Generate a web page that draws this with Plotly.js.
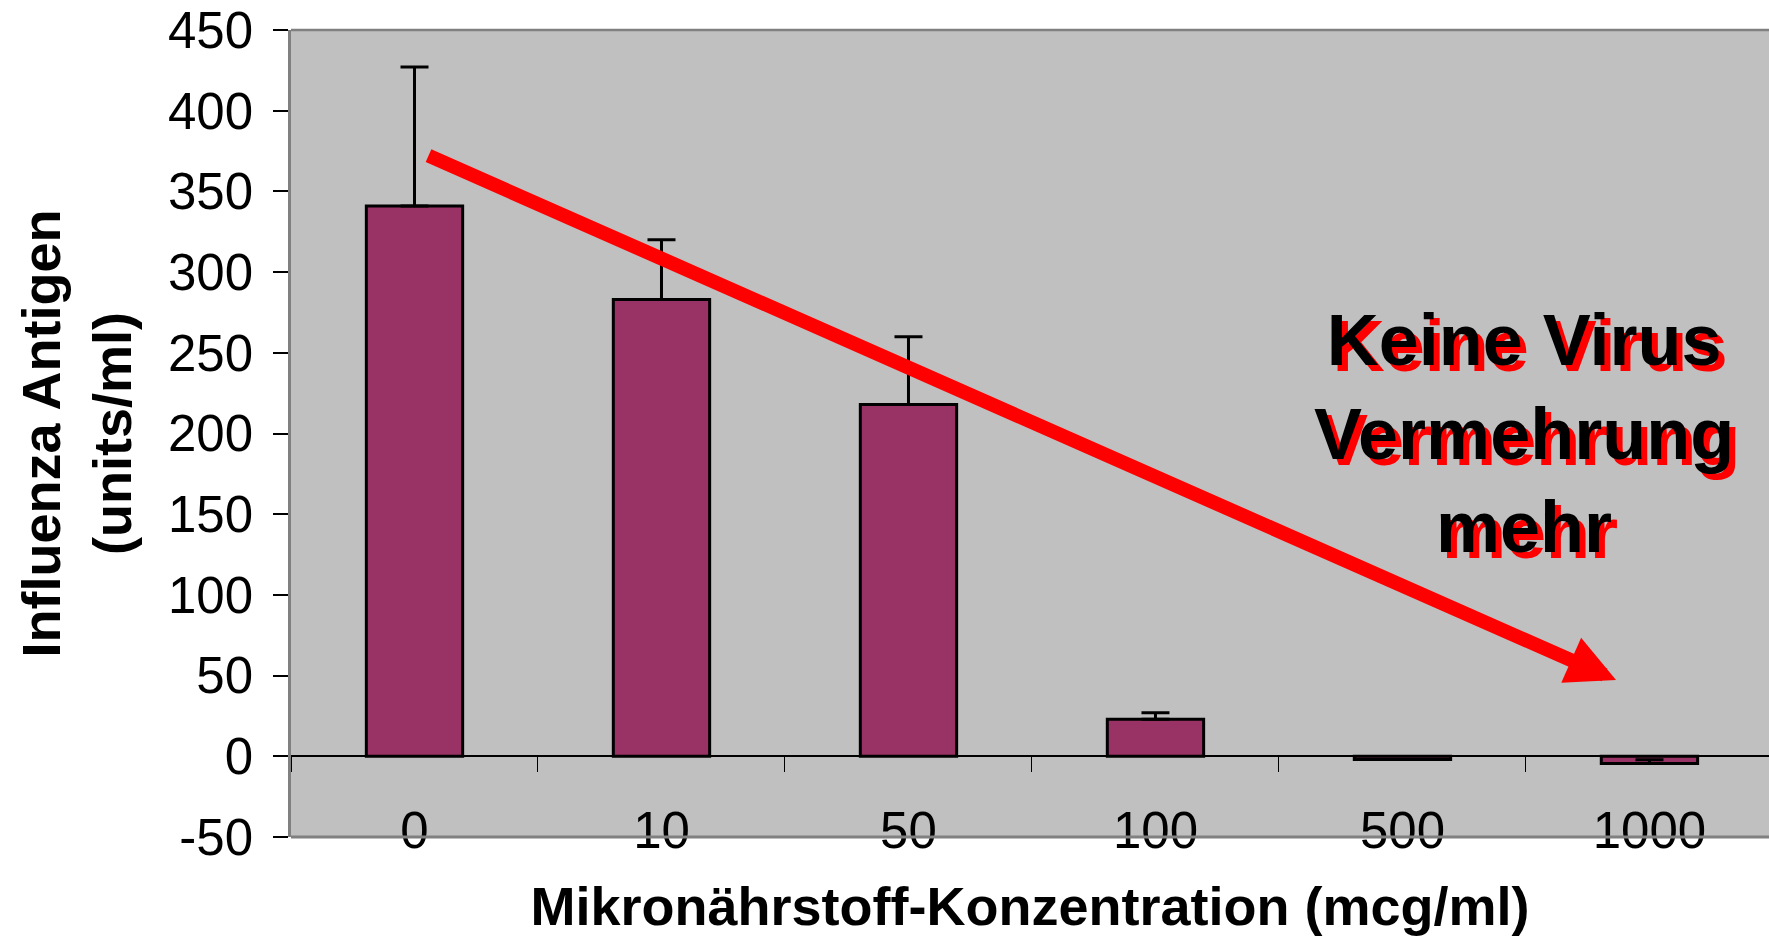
<!DOCTYPE html>
<html>
<head>
<meta charset="utf-8">
<script src="https://cdn.plot.ly/plotly-3.0.1.min.js"></script>
<style>html,body{margin:0;padding:0;background:#fff;}#chart{width:1769px;height:936px;}</style>
</head>
<body>
<div id="chart"></div>
<script>
const categories = ["0", "10", "50", "100", "500", "1000"];
const antigenValues = [341, 283, 218, 23, -2, -4.5];
const errorPlus = [86, 37, 42, 4, 0, 2.3];
const errorMinus = [0, 0, 0, 0, 0, 0];
const yTickValues = [-50, 0, 50, 100, 150, 200, 250, 300, 350, 400, 450];
const yTickText = ["-50", "0", "50", "100", "150", "200", "250", "300", "350", "400", "450"];

const FONT = "Arial, 'Liberation Sans', Helvetica, sans-serif";

const trace = {
  type: "bar",
  x: categories,
  y: antigenValues,
  marker: { color: "#993366", line: { color: "#000000", width: 3 } },
  error_y: {
    type: "data",
    symmetric: false,
    array: errorPlus,
    arrayminus: errorMinus,
    color: "#000000",
    thickness: 3,
    width: 14
  },
  hoverinfo: "x+y"
};

const noteText = "<b>Keine Virus<br>Vermehrung<br>mehr</b>";

const layout = {
  width: 1769,
  height: 936,
  margin: { l: 291, r: 0, t: 30, b: 99 },
  paper_bgcolor: "#ffffff",
  plot_bgcolor: "#c0c0c0",
  showlegend: false,
  bargap: 0.61,
  font: { family: FONT, color: "#000000" },
  xaxis: {
    type: "category",
    range: [-0.5, 5.484],
    anchor: "free",
    position: 0.1,
    showline: true,
    linecolor: "#000000",
    linewidth: 1.5,
    showgrid: false,
    zeroline: false,
    ticks: "outside",
    tickson: "boundaries",
    ticklen: 15,
    tickwidth: 1,
    tickcolor: "#000000",
    ticklabelstandoff: 30,
    tickfont: { family: FONT, size: 51, color: "#000000" },
    title: {
      text: "<b>Mikronährstoff-Konzentration (mcg/ml)</b>",
      font: { family: FONT, size: 54, color: "#000000" },
      standoff: 28
    },
    automargin: false
  },
  yaxis: {
    range: [-50, 450],
    tickvals: yTickValues,
    ticktext: yTickText,
    showline: true,
    linecolor: "#808080",
    linewidth: 2.5,
    showgrid: false,
    zeroline: false,
    ticks: "outside",
    ticklen: 15,
    tickwidth: 1.5,
    tickcolor: "#000000",
    ticklabelstandoff: 10,
    tickfont: { family: FONT, size: 51, color: "#000000" },
    title: {
      text: "<b>Influenza Antigen<br>(units/ml)</b>",
      font: { family: FONT, size: 54, color: "#000000" },
      standoff: 20
    },
    automargin: false
  },
  shapes: [
    { type: "line", xref: "paper", yref: "paper", x0: 0, x1: 1, y0: 1, y1: 1,
      line: { color: "#808080", width: 2.5 } },
    { type: "line", xref: "paper", yref: "paper", x0: 0, x1: 1, y0: 0, y1: 0,
      line: { color: "#808080", width: 3 } }
  ],
  annotations: [
    {
      xref: "paper", yref: "paper", x: 0.8965, y: 0.1945,
      ax: -1189, ay: -525, axref: "pixel", ayref: "pixel",
      showarrow: true, arrowhead: 2, arrowsize: 0.7, arrowwidth: 14,
      arrowcolor: "#ff0000", text: ""
    },
    {
      xref: "paper", yref: "paper", x: 0.8343, y: 0.5006,
      xanchor: "center", yanchor: "middle",
      xshift: 6, yshift: -6,
      showarrow: false, align: "center",
      text: noteText,
      font: { family: FONT, size: 72, color: "#ff0000" }
    },
    {
      xref: "paper", yref: "paper", x: 0.8343, y: 0.5006,
      xanchor: "center", yanchor: "middle",
      showarrow: false, align: "center",
      text: noteText,
      font: { family: FONT, size: 72, color: "#000000" }
    }
  ]
};

Plotly.newPlot("chart", [trace], layout, { displayModeBar: false });
</script>
</body>
</html>
